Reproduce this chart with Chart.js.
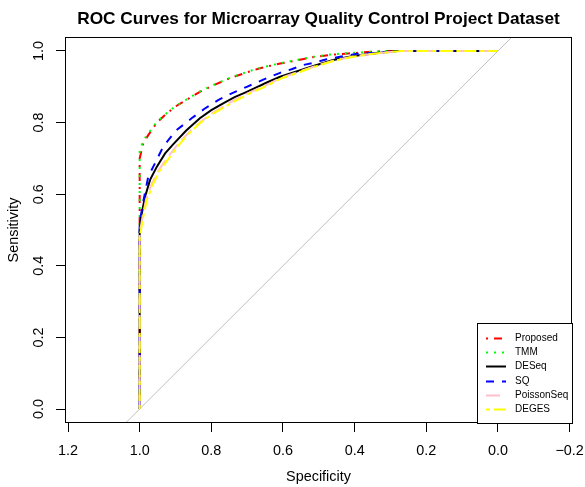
<!DOCTYPE html>
<html>
<head>
<meta charset="utf-8">
<script src="https://cdn.jsdelivr.net/npm/chart.js@4.4.1/dist/chart.umd.min.js"></script>
<style>
  html, body { margin: 0; padding: 0; background: #fff; }
</style>
</head>
<body>
<canvas id="roc" width="585" height="487"></canvas>
<script>
// --- Data ---
var X_TICKS = [1.2, 1.0, 0.8, 0.6, 0.4, 0.2, 0.0, -0.2];
var Y_TICKS = [0.0, 0.2, 0.4, 0.6, 0.8, 1.0];

var SERIES_NAMES = ['Proposed', 'TMM', 'DESeq', 'SQ', 'PoissonSeq', 'DEGES'];

var proposedSpec = [1.0, 1.0, 0.99, 0.976, 0.952, 0.925, 0.90, 0.865, 0.832, 0.79, 0.748, 0.705, 0.664, 0.608, 0.566, 0.52, 0.469, 0.418, 0.366, 0.31, 0.0];
var proposedSens = [0.0, 0.70, 0.742, 0.765, 0.80, 0.825, 0.845, 0.866, 0.886, 0.906, 0.924, 0.939, 0.952, 0.965, 0.973, 0.982, 0.989, 0.993, 0.997, 1.0, 1.0];

var tmmSpec = [1.0, 1.0, 0.99, 0.976, 0.952, 0.925, 0.90, 0.865, 0.832, 0.79, 0.748, 0.705, 0.664, 0.608, 0.566, 0.52, 0.469, 0.418, 0.366, 0.31, 0.0];
var tmmSens = [0.0, 0.72, 0.75, 0.77, 0.802, 0.826, 0.846, 0.867, 0.887, 0.907, 0.925, 0.94, 0.953, 0.966, 0.974, 0.983, 0.99, 0.994, 0.997, 1.0, 1.0];

var deseqSpec = [1.0, 1.0, 0.996, 0.985, 0.971, 0.952, 0.929, 0.906, 0.87, 0.832, 0.80, 0.767, 0.735, 0.701, 0.645, 0.608, 0.571, 0.515, 0.46, 0.404, 0.348, 0.30, 0.28, 0.0];
var deseqSens = [0.0, 0.50, 0.537, 0.593, 0.64, 0.677, 0.714, 0.740, 0.778, 0.812, 0.835, 0.854, 0.871, 0.886, 0.912, 0.928, 0.940, 0.958, 0.975, 0.986, 0.993, 0.998, 1.0, 1.0];

var sqSpec = [1.0, 1.0, 0.99, 0.976, 0.962, 0.948, 0.934, 0.915, 0.897, 0.855, 0.82, 0.781, 0.74, 0.701, 0.655, 0.608, 0.576, 0.543, 0.515, 0.478, 0.441, 0.394, 0.338, 0.297, 0.28, 0.0];
var sqSens = [0.0, 0.52, 0.579, 0.649, 0.677, 0.705, 0.733, 0.757, 0.779, 0.812, 0.838, 0.863, 0.883, 0.90, 0.92, 0.939, 0.949, 0.961, 0.967, 0.977, 0.984, 0.992, 0.995, 0.998, 1.0, 1.0];

var poissonSpec = [1.0, 1.0, 0.992, 0.982, 0.965, 0.945, 0.918, 0.89, 0.86, 0.83, 0.795, 0.76, 0.73, 0.70, 0.64, 0.608, 0.562, 0.515, 0.46, 0.404, 0.348, 0.30, 0.27, 0.0];
var poissonSens = [0.0, 0.49, 0.537, 0.586, 0.632, 0.670, 0.708, 0.744, 0.775, 0.802, 0.828, 0.849, 0.866, 0.881, 0.908, 0.924, 0.940, 0.956, 0.973, 0.985, 0.992, 0.997, 1.0, 1.0];

var degesSpec = [1.0, 1.0, 0.99, 0.98, 0.962, 0.943, 0.915, 0.887, 0.86, 0.83, 0.795, 0.76, 0.73, 0.70, 0.64, 0.608, 0.562, 0.515, 0.46, 0.404, 0.348, 0.30, 0.27, 0.0];
var degesSens = [0.0, 0.48, 0.537, 0.584, 0.63, 0.668, 0.705, 0.742, 0.772, 0.80, 0.825, 0.845, 0.862, 0.878, 0.905, 0.922, 0.938, 0.955, 0.972, 0.984, 0.992, 0.997, 1.0, 1.0];

// chance line, spans the plot region
var diagSpec = [1.04, -0.04];
var diagSens = [-0.04, 1.04];

var FONT = "'Liberation Sans', Arial, Helvetica, sans-serif";
Chart.defaults.font.family = FONT;
Chart.defaults.color = '#000';

function toPoints(xs, ys) {
  return xs.map(function (x, i) { return { x: x, y: ys[i] }; });
}

function curve(name, spec, sens, color, dash, order) {
  return {
    label: name,
    data: toPoints(spec, sens),
    borderColor: color,
    backgroundColor: color,
    borderWidth: 2,
    borderDash: dash,
    borderCapStyle: 'butt',
    pointRadius: 0,
    tension: 0,
    fill: false,
    order: order
  };
}

var datasets = [
  curve(SERIES_NAMES[0], proposedSpec, proposedSens, '#FF0000', [2, 6, 8, 6], 6),
  curve(SERIES_NAMES[1], tmmSpec, tmmSens, '#00FF00', [2, 6], 5),
  curve(SERIES_NAMES[2], deseqSpec, deseqSens, '#000000', [], 4),
  curve(SERIES_NAMES[3], sqSpec, sqSens, '#0000FF', [8, 8], 3),
  curve(SERIES_NAMES[4], poissonSpec, poissonSens, '#FFC0CB', [14, 6], 2),
  curve(SERIES_NAMES[5], degesSpec, degesSens, '#FFFF00', [4, 4, 12, 4], 1),
  {
    label: 'chance',
    data: toPoints(diagSpec, diagSens),
    borderColor: '#BEBEBE',
    borderWidth: 1,
    pointRadius: 0,
    fill: false,
    order: 10
  }
];

// --- R-style box + legend ---
var rPlot = {
  id: 'rPlot',
  afterDatasetsDraw: function (chart) {
    var ctx = chart.ctx;
    var ca = chart.chartArea;
    ctx.save();
    ctx.strokeStyle = '#000';
    ctx.lineWidth = 1;
    ctx.setLineDash([]);
    ctx.strokeRect(ca.left + 0.5, ca.top + 0.5, ca.right - ca.left - 1, ca.bottom - ca.top - 1);

    // legend box in bottom right corner
    var w = 95, h = 100;
    var lx = ca.right - w, ly = ca.bottom - h;
    ctx.fillStyle = '#fff';
    ctx.fillRect(lx, ly, w, h);
    ctx.strokeRect(lx + 0.5, ly + 0.5, w, h);

    ctx.font = '10px ' + FONT;
    ctx.textBaseline = 'middle';
    ctx.textAlign = 'left';
    SERIES_NAMES.forEach(function (name, i) {
      var ds = chart.data.datasets[i];
      var y = Math.round(ly + 15 + i * 14.2) + 0.5;
      ctx.strokeStyle = ds.borderColor;
      ctx.lineWidth = 2;
      ctx.setLineDash(ds.borderDash);
      ctx.beginPath();
      ctx.moveTo(lx + 9, y);
      ctx.lineTo(lx + 29, y);
      ctx.stroke();
      ctx.fillStyle = '#000';
      ctx.fillText(name, lx + 38, y);
    });
    ctx.restore();
  }
};

new Chart(document.getElementById('roc'), {
  type: 'line',
  data: { datasets: datasets },
  plugins: [rPlot],
  options: {
    responsive: false,
    animation: false,
    layout: { padding: { left: 0, right: 13, top: 0, bottom: 0 } },
    plugins: {
      legend: { display: false },
      tooltip: { enabled: false },
      title: {
        display: true,
        fullSize: false,
        text: 'ROC Curves for Microarray Quality Control Project Dataset',
        color: '#000',
        font: { size: 17.28, weight: 'bold', family: FONT },
        padding: { top: 8.8, bottom: 7.46 }
      }
    },
    scales: {
      x: {
        type: 'linear',
        reverse: true,
        min: -0.2067,
        max: 1.2084,
        afterBuildTicks: function (scale) {
          scale.ticks = X_TICKS.map(function (v) { return { value: v }; });
        },
        afterFit: function (scale) {
          scale.height = 64;
          scale.paddingLeft = 0;
          scale.paddingRight = 0;
        },
        grid: { drawOnChartArea: false, drawTicks: true, tickLength: 9, color: '#000' },
        border: { display: false },
        ticks: {
          autoSkip: false,
          maxRotation: 0,
          padding: 10,
          font: { size: 14.4 },
          callback: function (v) { return (v < 0 ? '\u2212' : '') + Math.abs(v).toFixed(1); }
        },
        title: {
          display: true,
          text: 'Specificity',
          font: { size: 14.4 },
          padding: { top: 0, bottom: 1.4 }
        }
      },
      y: {
        type: 'linear',
        min: -0.0391,
        max: 1.0391,
        afterBuildTicks: function (scale) {
          scale.ticks = Y_TICKS.map(function (v) { return { value: v }; });
        },
        afterFit: function (scale) {
          scale.width = 65;
          scale.paddingTop = 0;
          scale.paddingBottom = 0;
        },
        grid: { drawOnChartArea: false, drawTicks: true, tickLength: 9, color: '#000' },
        border: { display: false },
        ticks: {
          autoSkip: false,
          minRotation: 90,
          maxRotation: 90,
          crossAlign: 'center',
          padding: 7,
          font: { size: 14.4 },
          callback: function (v) { return v.toFixed(1); }
        },
        title: {
          display: true,
          text: 'Sensitivity',
          font: { size: 14.4 },
          padding: { top: 5.4, bottom: 0 }
        }
      }
    }
  }
});
</script>
</body>
</html>
